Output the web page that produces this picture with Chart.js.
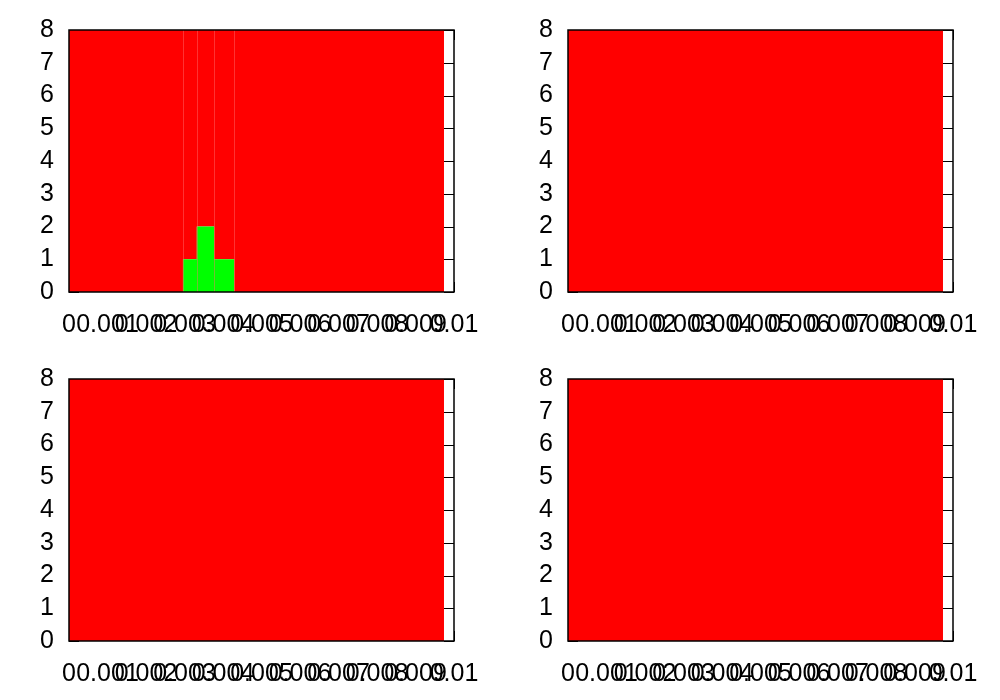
<!DOCTYPE html>
<html>
<head>
<meta charset="utf-8">
<script src="https://cdn.jsdelivr.net/npm/chart.js@4/dist/chart.umd.min.js"></script>
<style>
  html, body { margin: 0; padding: 0; background: #ffffff; }
  #wrap { position: relative; width: 1000px; height: 700px; background: #ffffff; }
  .panel { position: absolute; width: 500px; height: 350px; }
</style>
</head>
<body>
<div id="wrap">
  <div class="panel" style="left:0px;top:0px;"><canvas id="c0" width="500" height="350"></canvas></div>
  <div class="panel" style="left:499px;top:0px;"><canvas id="c1" width="500" height="350"></canvas></div>
  <div class="panel" style="left:0px;top:349px;"><canvas id="c2" width="500" height="350"></canvas></div>
  <div class="panel" style="left:499px;top:349px;"><canvas id="c3" width="500" height="350"></canvas></div>
</div>
<script>
// ---- data ----
const binEdges = [0, 0.00296, 0.00332, 0.00377, 0.00429, 0.00974];
const greenTopLeft = [0, 1, 2, 1, 0];
const redTopLeft   = [8, 7, 6, 7, 8];
const greenTopRight = [0, 0, 0, 0, 0];
const redTopRight   = [8, 8, 8, 8, 8];
const greenBottomLeft = [0, 0, 0, 0, 0];
const redBottomLeft   = [8, 8, 8, 8, 8];
const greenBottomRight = [0, 0, 0, 0, 0];
const redBottomRight   = [8, 8, 8, 8, 8];
const xTickValues = [0, 0.001, 0.002, 0.003, 0.004, 0.005, 0.006, 0.007, 0.008, 0.009, 0.01];
const xTickLabels = ['0', '0.001', '0.002', '0.003', '0.004', '0.005', '0.006', '0.007', '0.008', '0.009', '0.01'];
const yTickValues = [0, 1, 2, 3, 4, 5, 6, 7, 8];
const yTickLabels = ['0', '1', '2', '3', '4', '5', '6', '7', '8'];

const panels = [
  { id: 'c0', green: greenTopLeft, red: redTopLeft, seams: true },
  { id: 'c1', green: greenTopRight, red: redTopRight, seams: false },
  { id: 'c2', green: greenBottomLeft, red: redBottomLeft, seams: false },
  { id: 'c3', green: greenBottomRight, red: redBottomRight, seams: false }
];

function stepPoints(vals) {
  const pts = vals.map((v, i) => ({ x: binEdges[i], y: v }));
  pts.push({ x: binEdges[binEdges.length - 1], y: vals[vals.length - 1] });
  return pts;
}

const FONT = { family: '"Liberation Sans", Arial, sans-serif', size: 25 };
const TICKLEN = 10;

function makeFramePlugin(showSeams) {
  return {
    id: 'frame',
    beforeDatasetsDraw(chart) {
      const ctx = chart.ctx, a = chart.chartArea;
      const xs = chart.scales.x, ys = chart.scales.y;
      ctx.save();
      ctx.strokeStyle = '#000';
      ctx.lineWidth = 1;
      ctx.beginPath();
      yTickValues.forEach(v => {
        const y = Math.round(ys.getPixelForValue(v)) + 0.5;
        ctx.moveTo(a.left, y); ctx.lineTo(a.left + TICKLEN, y);
        ctx.moveTo(a.right, y); ctx.lineTo(a.right - TICKLEN, y);
      });
      xTickValues.forEach(v => {
        const x = Math.round(xs.getPixelForValue(v)) + 0.5;
        ctx.moveTo(x, a.bottom); ctx.lineTo(x, a.bottom - TICKLEN);
        ctx.moveTo(x, a.top); ctx.lineTo(x, a.top + TICKLEN);
      });
      ctx.stroke();
      ctx.restore();
    },
    afterDatasetsDraw(chart) {
      const ctx = chart.ctx, a = chart.chartArea;
      const xs = chart.scales.x;
      ctx.save();
      if (showSeams) {
        ctx.strokeStyle = 'rgba(255,110,110,0.45)';
        ctx.lineWidth = 1;
        ctx.beginPath();
        binEdges.slice(1, -1).forEach(e => {
          const x = Math.round(xs.getPixelForValue(e)) + 0.5;
          ctx.moveTo(x, a.top); ctx.lineTo(x, a.bottom);
        });
        ctx.stroke();
      }
      ctx.strokeStyle = '#000';
      ctx.lineWidth = 1.5;
      ctx.strokeRect(a.left, a.top, a.right - a.left, a.bottom - a.top);
      ctx.restore();
    }
  };
}

panels.forEach(p => {
  const greenPts = stepPoints(p.green);
  const totalPts = stepPoints(p.green.map((g, i) => g + p.red[i]));
  new Chart(document.getElementById(p.id), {
    type: 'line',
    data: {
      datasets: [
        {
          label: 'green',
          data: greenPts,
          stepped: 'before',
          borderWidth: 0,
          borderColor: 'rgba(0,0,0,0)',
          backgroundColor: '#00ff00',
          pointRadius: 0,
          fill: 'origin',
          order: 1
        },
        {
          label: 'red',
          data: totalPts,
          stepped: 'before',
          borderWidth: 0,
          borderColor: 'rgba(0,0,0,0)',
          backgroundColor: '#ff0000',
          pointRadius: 0,
          fill: '-1',
          order: 2
        }
      ]
    },
    options: {
      responsive: false,
      animation: false,
      events: [],
      layout: { padding: { top: 29, right: 46, left: 0, bottom: 0 } },
      plugins: { legend: { display: false }, tooltip: { enabled: false } },
      scales: {
        x: {
          type: 'linear',
          min: 0, max: 0.01,
          grid: { display: false, drawTicks: false },
          border: { display: false },
          afterBuildTicks(scale) { scale.ticks = xTickValues.map(v => ({ value: v })); },
          afterFit(scale) { scale.height = 58; },
          ticks: {
            autoSkip: false, maxRotation: 0, minRotation: 0,
            padding: 18, color: '#000', font: FONT,
            callback: (v, i) => xTickLabels[i]
          }
        },
        y: {
          type: 'linear',
          min: 0, max: 8,
          grid: { display: false, drawTicks: false },
          border: { display: false },
          afterBuildTicks(scale) { scale.ticks = yTickValues.map(v => ({ value: v })); },
          afterFit(scale) { scale.width = 69; },
          ticks: {
            autoSkip: false,
            padding: 15, color: '#000', font: FONT,
            callback: (v, i) => yTickLabels[i]
          }
        }
      }
    },
    plugins: [makeFramePlugin(p.seams)]
  });
});
</script>
</body>
</html>
